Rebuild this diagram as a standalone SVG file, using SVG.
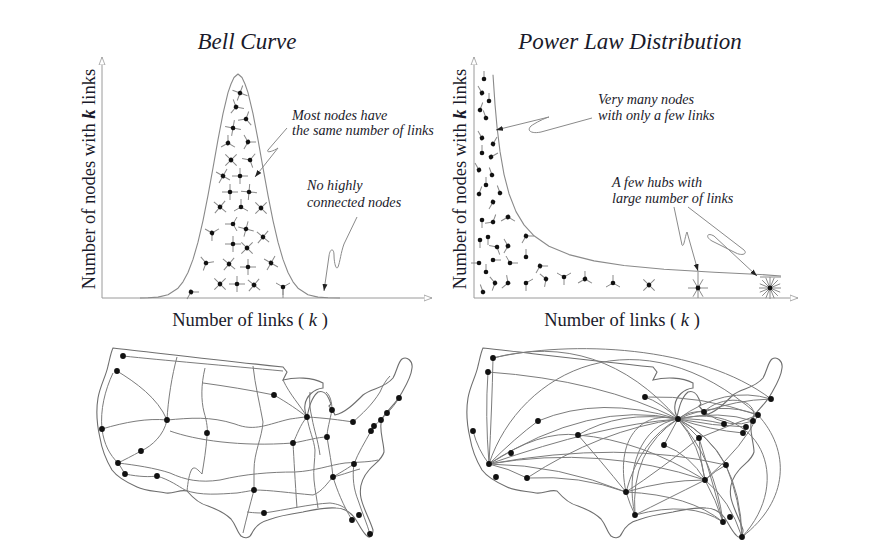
<svg xmlns="http://www.w3.org/2000/svg" width="880" height="557" viewBox="0 0 880 557">
<style>
.ax{stroke:#9a9a9a;stroke-width:1;fill:none}
.cv{stroke:#8a8a8a;stroke-width:1.1;fill:none;stroke-linejoin:round}
.sp{stroke:#8a8a8a;stroke-width:1;fill:none}
.ld{stroke:#8a8a8a;stroke-width:1;fill:none}
.rd{stroke:#7c7c7c;stroke-width:1;fill:none}
.ol{stroke:#6e6e6e;stroke-width:1.1;fill:none}
.t{font-family:"Liberation Serif","Times New Roman",serif;fill:#1a1a2a}
.ti{font-style:italic;font-size:23px}
.an{font-style:italic;font-size:14.2px}
.al{font-size:18.5px}
.dot{fill:#111}
</style>
<defs>
<marker id="oa" markerWidth="10" markerHeight="8" refX="8" refY="4" orient="auto" markerUnits="userSpaceOnUse"><path d="M0,1 L8,4 L0,7 Z" fill="#fff" stroke="#9a9a9a" stroke-width="0.8"/></marker>
<marker id="fa" markerWidth="8" markerHeight="6" refX="7" refY="3" orient="auto" markerUnits="userSpaceOnUse"><path d="M0,0.5 L7,3 L0,5.5 Z" fill="#222"/></marker>
<g id="k1"><path class="sp" d="M0,0V8"/><circle class="dot" r="2.3"/></g>
<g id="k2"><path class="sp" d="M0,0V8M0,0L7,-4"/><circle class="dot" r="2.3"/></g>
<g id="k3"><path class="sp" d="M0,0V8M0,0L7,-4M0,0L-7,-4"/><circle class="dot" r="2.3"/></g>
<g id="k4"><path class="sp" d="M-8,0H8M0,-8V8"/><circle class="dot" r="2.3"/></g>
<g id="k6"><path class="sp" d="M-10,0H10M-5,-8.7L5,8.7M5,-8.7L-5,8.7"/><circle class="dot" r="2.4"/></g>
<g id="k16"><path class="sp" d="M-11,0H11M0,-11V11M-7.8,-7.8L7.8,7.8M7.8,-7.8L-7.8,7.8M-10.2,-4.2L10.2,4.2M10.2,-4.2L-10.2,4.2M-4.2,-10.2L4.2,10.2M4.2,-10.2L-4.2,10.2"/><circle class="dot" r="2.4"/></g>
<path id="usa" class="ol" d="M113,348 C150,352 215,360 283,367 L287,372 L283,380 C295,377 312,377 323,383 L323,388 C314,389 306,396 305,405 C304,411 306,415 307,417 C309,408 311,398 318,392 C323,390 327,394 329,399 L331,404 L329,406 C332,409 334,412 335,415 C345,413 355,403 363,395 C371,388 384,389 393,378 C397,371 398,362 402,359 C407,356 413,361 412,368 C411,378 405,387 401,394 C396,404 386,411 382,419 C378,428 384,442 384,452 C382,460 374,464 369,470 C362,478 359,488 361,498 C363,508 370,520 373,530 C373,537 369,539 366,535 C361,530 358,522 354,517 C349,511 344,508 336,508 C325,507 312,510 303,512 C290,514 278,516 268,520 C260,522 255,527 252,533 C250,538 245,539 241,536 C237,532 236,525 231,519 C224,512 216,509 208,506 C200,504 193,498 187,491 C180,489 174,494 166,493 C155,491 145,491 137,487 C128,483 118,478 112,470 C106,460 102,450 100,438 C97,425 96,410 98,398 C100,386 106,376 108,366 C110,358 111,352 113,348 Z"/>
</defs>
<rect width="880" height="557" fill="#fff"/>

<g id="bell-chart">
<text class="t ti" x="247" y="49" text-anchor="middle">Bell Curve</text>
<path class="ax" d="M102,298 V57" marker-end="url(#oa)"/>
<path class="ax" d="M102,298 H432" marker-end="url(#oa)"/>
<text class="t al" transform="translate(95,179) rotate(-90)" text-anchor="middle">Number of nodes with <tspan font-style="italic" font-weight="bold">k</tspan> links</text>
<text class="t al" x="250" y="326" text-anchor="middle">Number of links ( <tspan font-style="italic">k</tspan> )</text>
<polyline class="cv" points="140,298 148,297.8 158,297.1 168,294.8 178,288.2 183,281.8 188,272.5 193,259.4 198,242.2 203,220.6 208,195.4 213,167.8 218,139.6 223,113.7 228,92.6 231,84 234,77.5 238,74 242,77.5 245,84 248,92.6 253,113.7 258,139.6 263,167.8 268,195.4 273,220.6 278,242.2 283,259.4 288,272.5 293,281.8 298,288.2 308,294.8 318,297.1 328,297.8 340,298"/>
<path class="sp" d="M283,287 V298"/>
<use href="#k4" transform="translate(240,93) rotate(20)"/>
<use href="#k3" transform="translate(236,107) rotate(40)"/>
<use href="#k3" transform="translate(246,119) rotate(200)"/>
<use href="#k4" transform="translate(233,128) rotate(10)"/>
<use href="#k3" transform="translate(228,143) rotate(60)"/>
<use href="#k3" transform="translate(248,142) rotate(150)"/>
<use href="#k4" transform="translate(231,160) rotate(45)"/>
<use href="#k3" transform="translate(250,160) rotate(100)"/>
<use href="#k4" transform="translate(223,176) rotate(30)"/>
<use href="#k4" transform="translate(240,176)"/>
<use href="#k4" transform="translate(230,192)"/>
<use href="#k4" transform="translate(249,192) rotate(5)"/>
<use href="#k4" transform="translate(220,207) rotate(40)"/>
<use href="#k3" transform="translate(241,207) rotate(180)"/>
<use href="#k4" transform="translate(261,208) rotate(45)"/>
<use href="#k3" transform="translate(233,224) rotate(90)"/>
<use href="#k4" transform="translate(246,229) rotate(15)"/>
<use href="#k3" transform="translate(212,233) rotate(120)"/>
<use href="#k4" transform="translate(263,237) rotate(40)"/>
<use href="#k4" transform="translate(233,244)"/>
<use href="#k4" transform="translate(247,248) rotate(45)"/>
<use href="#k3" transform="translate(206,263) rotate(20)"/>
<use href="#k4" transform="translate(229,264) rotate(40)"/>
<use href="#k4" transform="translate(248,267)"/>
<use href="#k4" transform="translate(271,263) rotate(30)"/>
<use href="#k4" transform="translate(220,284) rotate(45)"/>
<use href="#k4" transform="translate(237,284)"/>
<use href="#k4" transform="translate(254,285) rotate(40)"/>
<use href="#k3" transform="translate(283,287) rotate(0)"/>
<use href="#k2" transform="translate(191,292) rotate(30)"/>
<text class="t an" x="292" y="120">Most nodes have</text>
<text class="t an" x="292" y="135">the same number of links</text>
<path class="ld" d="M287,128 L268,150 C266,153 272,152 278,148 L255,177" marker-end="url(#fa)"/>
<text class="t an" x="307" y="190">No highly</text>
<text class="t an" x="307" y="207">connected nodes</text>
<path class="ld" d="M357,217 L344,244 C341,252 340,262 338,267 C336,271 334,262 334,255 C334,248 330,248 329,256 L324,291" marker-end="url(#fa)"/>
</g>

<g id="power-chart">
<text class="t ti" x="630" y="49" text-anchor="middle">Power Law Distribution</text>
<path class="ax" d="M474,298 V57" marker-end="url(#oa)"/>
<path class="ax" d="M474,298 H798" marker-end="url(#oa)"/>
<text class="t al" transform="translate(466,179) rotate(-90)" text-anchor="middle">Number of nodes with <tspan font-style="italic" font-weight="bold">k</tspan> links</text>
<text class="t al" x="622" y="326" text-anchor="middle">Number of links ( <tspan font-style="italic">k</tspan> )</text>
<polyline class="cv" points="493,74.7 495,104.4 497,126.7 500,151.4 504,174.3 509,193.7 516,211.6 524,224.9 534,235.8 549,246.2 569,254.6 594,260.9 624,265.5 664,269.3 714,272.3 760,274.5 781,276"/>
<path class="sp" d="M698,272 V298 M760,277 H781"/>
<use href="#k1" transform="translate(484,79) rotate(180)"/>
<use href="#k1" transform="translate(482,93) rotate(150)"/>
<use href="#k1" transform="translate(489,101) rotate(180)"/>
<use href="#k1" transform="translate(480,110) rotate(200)"/>
<use href="#k1" transform="translate(486,118) rotate(160)"/>
<use href="#k1" transform="translate(482,138) rotate(150)"/>
<use href="#k1" transform="translate(493,144) rotate(210)"/>
<use href="#k1" transform="translate(482,153) rotate(180)"/>
<use href="#k1" transform="translate(491,157) rotate(240)"/>
<use href="#k1" transform="translate(479,170) rotate(150)"/>
<use href="#k1" transform="translate(492,175) rotate(160)"/>
<use href="#k1" transform="translate(486,185) rotate(180)"/>
<use href="#k1" transform="translate(500,193) rotate(160)"/>
<use href="#k1" transform="translate(479,194) rotate(200)"/>
<use href="#k1" transform="translate(493,202) rotate(30)"/>
<use href="#k1" transform="translate(482,220)"/>
<use href="#k2" transform="translate(493,222) rotate(200)"/>
<use href="#k2" transform="translate(508,217) rotate(60)"/>
<use href="#k1" transform="translate(480,240)"/>
<use href="#k1" transform="translate(488,237)"/>
<use href="#k2" transform="translate(497,247) rotate(100)"/>
<use href="#k2" transform="translate(508,246) rotate(150)"/>
<use href="#k2" transform="translate(526,236) rotate(30)"/>
<use href="#k1" transform="translate(479,263) rotate(90)"/>
<use href="#k1" transform="translate(493,260) rotate(270)"/>
<use href="#k2" transform="translate(510,263) rotate(270)"/>
<use href="#k1" transform="translate(526,257) rotate(180)"/>
<use href="#k2" transform="translate(540,266) rotate(30)"/>
<use href="#k1" transform="translate(486,272) rotate(180)"/>
<use href="#k2" transform="translate(495,283) rotate(140)"/>
<use href="#k2" transform="translate(508,283) rotate(170)"/>
<use href="#k2" transform="translate(526,283)"/>
<use href="#k2" transform="translate(546,279) rotate(130)"/>
<use href="#k3" transform="translate(564,277)"/>
<use href="#k3" transform="translate(585,279) rotate(60)"/>
<use href="#k3" transform="translate(613,283) rotate(180)"/>
<use href="#k4" transform="translate(649,285) rotate(45)"/>
<use href="#k1" transform="translate(483,292) rotate(160)"/>
<use href="#k6" transform="translate(698,288)"/>
<use href="#k16" transform="translate(770,288)"/>
<text class="t an" x="598" y="104">Very many nodes</text>
<text class="t an" x="598" y="120">with only a few links</text>
<path class="ld" d="M592,118 L541,132 C532,134 526,131 531,126 C535,123 545,118 549,117 L496,130" marker-end="url(#fa)"/>
<text class="t an" x="612" y="187">A few hubs with</text>
<text class="t an" x="612" y="203">large number of links</text>
<path class="ld" d="M674,207 L682,245 C684,248 685,236 687,232 L698,271" marker-end="url(#fa)"/>
<path class="ld" d="M688,207 L744,250 C748,254 742,256 736,253 L712,241 C705,237 707,232 714,236 L757,276" marker-end="url(#fa)"/>
</g>

<g id="map-random">
<use href="#usa"/>
<g class="rd">
<path d="M123,356 C160,360 230,366 283,371"/>
<path d="M117,371 C135,382 158,398 167,420"/>
<path d="M102,429 C125,422 148,418 167,420 C190,418 210,416 235,424 C255,432 268,424 290,419 C298,418 303,417 307,417"/>
<path d="M307,417 C325,418 340,420 353,422"/>
<path d="M170,431 C195,440 240,447 293,443 C305,441 318,437 327,437"/>
<path d="M203,383 C225,386 250,390 274,395 C288,403 298,410 307,417"/>
<path d="M118,463 C135,465 155,468 170,473 C185,480 200,483 220,480 C245,474 270,472 295,472 C315,471 330,465 345,463 C360,462 370,462 378,460"/>
<path d="M125,474 C140,477 150,477 157,476 C170,480 178,486 185,490 C200,496 220,494 237,493 C250,491 254,490 254,490 C270,490 290,493 313,495 C322,492 328,482 333,477 C345,474 352,471 360,469"/>
<path d="M247,512 C255,513 260,513 264,513 C285,510 310,504 330,503 C338,504 343,506 347,510"/>
<path d="M177,357 C172,375 168,400 167,420 C164,435 152,446 141,451 C132,456 124,460 118,463"/>
<path d="M205,368 C201,385 201,400 204,412 C207,422 208,430 207,436 C206,450 204,462 202,474 C198,470 195,466 192,469 C189,474 188,482 187,491"/>
<path d="M253,366 C255,385 260,405 263,422 C262,438 254,452 254,470 L254,490 C250,505 246,520 243,533"/>
<path d="M293,443 C294,460 295,480 297,508"/>
<path d="M307,417 C309,430 314,440 315,450 C315,460 313,470 314,480 C315,490 317,500 318,508"/>
<path d="M332,410 C330,420 327,430 327,437 C329,450 332,465 333,477 C337,490 343,505 352,520"/>
<path d="M399,398 C393,408 383,418 374,426 L371,431 C365,442 358,453 354,464 C352,478 354,490 358,500 C362,512 367,524 370,534"/>
<path d="M113,373 C105,390 100,410 102,429 C104,445 110,455 118,463 C121,467 123,471 125,474"/>
<path d="M283,380 C290,395 300,405 307,417"/>
<path d="M307,417 C300,425 297,435 293,443"/>
<path d="M332,410 C332,402 330,395 326,392"/>
<path d="M354,464 C345,470 338,474 333,477"/>
<path d="M353,422 C362,414 372,405 380,392 C383,385 386,380 390,376"/>
<path d="M310,392 C309,402 310,410 312,418 C314,430 318,440 320,455"/>
</g>
<g class="dot">
<circle cx="123" cy="356" r="2.9"/><circle cx="117" cy="371" r="2.9"/><circle cx="102" cy="429" r="2.9"/>
<circle cx="167" cy="420" r="2.9"/><circle cx="141" cy="451" r="2.9"/><circle cx="118" cy="463" r="2.9"/>
<circle cx="125" cy="474" r="2.9"/><circle cx="157" cy="476" r="2.9"/><circle cx="207" cy="433" r="2.9"/>
<circle cx="274" cy="395" r="2.9"/><circle cx="307" cy="417" r="2.9"/><circle cx="332" cy="410" r="2.9"/>
<circle cx="353" cy="422" r="2.9"/><circle cx="327" cy="437" r="2.9"/><circle cx="293" cy="443" r="2.9"/>
<circle cx="399" cy="398" r="2.9"/><circle cx="387" cy="413" r="2.9"/><circle cx="381" cy="420" r="2.9"/>
<circle cx="374" cy="426" r="2.9"/><circle cx="371" cy="431" r="2.9"/><circle cx="354" cy="464" r="2.9"/>
<circle cx="333" cy="477" r="2.9"/><circle cx="254" cy="490" r="2.9"/><circle cx="264" cy="513" r="2.9"/>
<circle cx="352" cy="520" r="2.9"/><circle cx="359" cy="515" r="2.9"/><circle cx="370" cy="534" r="2.9"/>
</g>
</g>

<g id="map-scalefree">
<use href="#usa" transform="translate(370,0)"/>
<g class="rd">
<path d="M489,464 Q485,415 488,372"/>
<path d="M489,464 Q492,405 493,358"/>
<path d="M489,464 Q478,450 473,431"/>
<path d="M489,464 Q515,438 538,421"/>
<path d="M489,464 Q540,430 578,435"/>
<path d="M489,464 Q590,400 678,419"/>
<path d="M489,464 Q600,425 678,419"/>
<path d="M489,464 C520,370 640,310 758,415"/>
<path d="M489,464 Q600,445 705,480"/>
<path d="M489,464 Q560,465 626,492"/>
<path d="M489,464 Q508,468 527,478"/>
<path d="M489,464 Q620,440 726,465"/>
<path d="M493,358 Q600,330 678,419"/>
<path d="M488,372 Q600,380 678,419"/>
<path d="M493,358 C570,340 700,345 771,399"/>
<path d="M678,419 Q660,402 645,397"/>
<path d="M678,419 Q690,410 704,412"/>
<path d="M678,419 Q700,418 724,424"/>
<path d="M678,419 Q720,400 758,415"/>
<path d="M678,419 Q725,385 771,399"/>
<path d="M678,419 Q672,430 664,445"/>
<path d="M678,419 Q690,428 699,438"/>
<path d="M678,419 Q700,445 705,480"/>
<path d="M678,419 Q710,435 726,465"/>
<path d="M678,419 Q715,460 723,522"/>
<path d="M678,419 Q740,450 742,537"/>
<path d="M678,419 Q640,440 626,492"/>
<path d="M678,419 Q630,450 635,515"/>
<path d="M678,419 Q600,430 527,478"/>
<path d="M678,419 Q620,410 578,435"/>
<path d="M678,419 Q600,395 538,421"/>
<path d="M678,419 C760,400 795,480 742,537"/>
<path d="M678,419 Q720,410 753,421"/>
<path d="M678,419 Q713,426 746,427"/>
<path d="M678,419 Q710,430 743,433"/>
<path d="M705,480 Q665,480 626,492"/>
<path d="M705,480 Q716,470 726,465"/>
<path d="M705,480 Q716,500 723,522"/>
<path d="M705,480 Q730,500 742,537"/>
<path d="M705,480 Q690,455 664,445"/>
<path d="M705,480 Q640,440 578,435"/>
<path d="M705,480 Q665,500 635,515"/>
<path d="M705,480 Q745,445 758,415"/>
<path d="M705,480 Q700,460 699,438"/>
<path d="M626,492 Q630,505 635,515"/>
<path d="M626,492 Q600,460 578,435"/>
<path d="M626,492 C615,440 640,410 678,419"/>
<path d="M635,515 C625,470 640,425 678,419"/>
<path d="M635,515 Q690,500 723,522"/>
<path d="M626,492 Q690,495 723,522"/>
<path d="M626,492 Q660,470 699,438"/>
<path d="M527,478 Q580,475 626,492"/>
<path d="M645,397 Q700,395 758,415"/>
<path d="M704,412 Q735,400 771,399"/>
<path d="M758,415 C790,450 790,500 742,537"/>
<path d="M726,465 Q740,500 742,537"/>
<path d="M704,412 Q730,430 753,421"/>
<path d="M699,438 Q730,425 758,415"/>
<path d="M699,438 Q715,490 723,522"/>
<path d="M704,412 C720,395 760,395 753,421"/>
</g>
<g class="dot">
<circle cx="493" cy="358" r="2.9"/><circle cx="488" cy="372" r="2.9"/><circle cx="473" cy="431" r="2.9"/>
<circle cx="538" cy="421" r="2.9"/><circle cx="511" cy="453" r="2.9"/><circle cx="489" cy="464" r="2.9"/>
<circle cx="496" cy="477" r="2.9"/><circle cx="527" cy="478" r="2.9"/><circle cx="578" cy="435" r="2.9"/>
<circle cx="645" cy="397" r="2.9"/><circle cx="678" cy="419" r="2.9"/><circle cx="704" cy="412" r="2.9"/>
<circle cx="724" cy="424" r="2.9"/><circle cx="699" cy="438" r="2.9"/><circle cx="664" cy="445" r="2.9"/>
<circle cx="771" cy="399" r="2.9"/><circle cx="758" cy="415" r="2.9"/><circle cx="753" cy="421" r="2.9"/>
<circle cx="746" cy="427" r="2.9"/><circle cx="743" cy="433" r="2.9"/><circle cx="726" cy="465" r="2.9"/>
<circle cx="705" cy="480" r="2.9"/><circle cx="626" cy="492" r="2.9"/><circle cx="635" cy="515" r="2.9"/>
<circle cx="723" cy="522" r="2.9"/><circle cx="730" cy="517" r="2.9"/><circle cx="742" cy="537" r="2.9"/>
</g>
</g>
</svg>
